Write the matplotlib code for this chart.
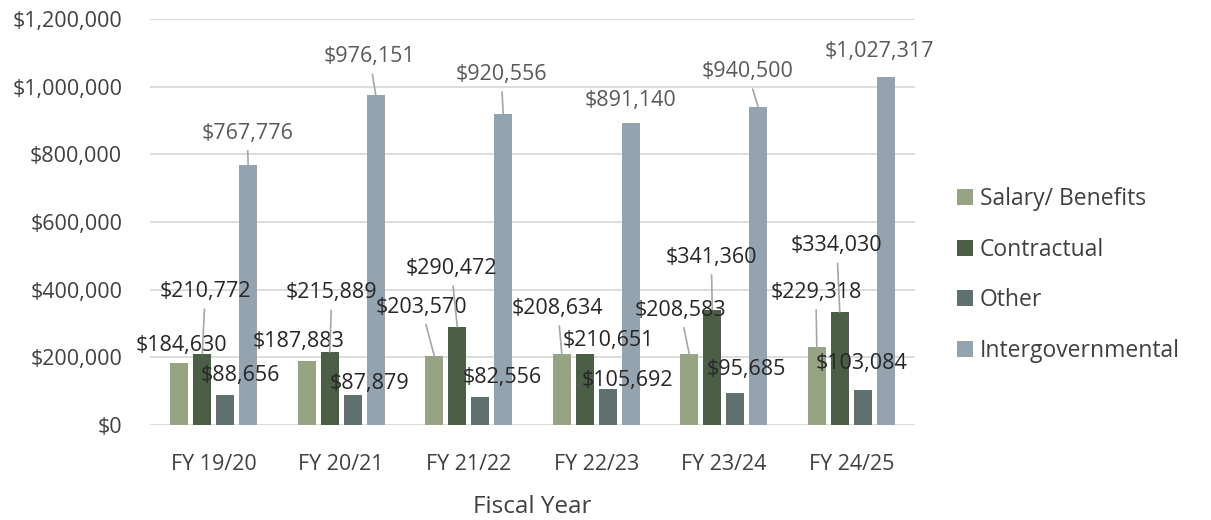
import matplotlib
matplotlib.use("Agg")
import matplotlib.pyplot as plt
import numpy as np
from matplotlib.ticker import FuncFormatter, MultipleLocator

years = ["FY 19/20", "FY 20/21", "FY 21/22", "FY 22/23", "FY 23/24", "FY 24/25"]
series_names = ["Salary/ Benefits", "Contractual", "Other", "Intergovernmental"]
salary = [184630, 187883, 203570, 208634, 208583, 229318]
contractual = [210772, 215889, 290472, 210651, 341360, 334030]
other = [88656, 87879, 82556, 105692, 95685, 103084]
intergov = [767776, 976151, 920556, 891140, 940500, 1027317]
values = [salary, contractual, other, intergov]

colors = ["#97A484", "#4B5E46", "#5E716F", "#94A3B0"]
label_colors = ["#262626", "#262626", "#262626", "#595959"]

# label offsets (pixels) from bar top, and whether a leader line is drawn
offsets = [
    [(2, 17), (-8, 20), (-13, 49), (-4, 46), (-9, 44), (-1, 55)],
    [(3, 62), (2, 59), (-6, 58), (24, 13), (-1, 52), (-3, 66)],
    [(15, 20), (17, 12), (22, 20), (20, 9), (11, 23), (-1, 27)],
    [(-1, 32), (-6, 38), (-2, 39), (0, 23), (-11, 35), (-6, 26)],
]
leaders = [
    [False, False, True, True, True, True],
    [True, True, True, False, True, True],
    [False, False, False, False, False, False],
    [True, True, True, False, True, False],
]

FONT = "Open Sans"
plt.rcParams["font.family"] = [FONT, "DejaVu Sans"]

fig = plt.figure(figsize=(12.11, 5.2), dpi=100)
ax = fig.add_axes([150 / 1211, 95 / 520, 765 / 1211, 406 / 520])

x = np.arange(len(years))
step = 0.18
width = 0.141
for s in range(4):
    pos = x + (s - 1.5) * step
    ax.bar(pos, values[s], width=width, color=colors[s], label=series_names[s], zorder=3)
    for i in range(len(years)):
        dx, dy = offsets[s][i]
        kw = {}
        if leaders[s][i]:
            kw["arrowprops"] = dict(arrowstyle="-", color="#A6A6A6", lw=1.2,
                                    shrinkA=3, shrinkB=0)
        ax.annotate(f"${values[s][i]:,}", xy=(pos[i], values[s][i]),
                    xytext=(dx, dy), textcoords="offset pixels",
                    ha="center", va="center", fontsize=15.5,
                    color=label_colors[s], zorder=5, **kw)

ax.set_xlim(-0.5, len(years) - 0.5)
ax.set_ylim(0, 1200000)
ax.yaxis.set_major_locator(MultipleLocator(200000))
ax.yaxis.set_major_formatter(FuncFormatter(lambda v, p: f"${int(v):,}"))
ax.set_xticks(x)
ax.set_xticklabels(years)
ax.grid(axis="y", color="#D9D9D9", lw=1.3, zorder=0)
for sp in ax.spines.values():
    sp.set_visible(False)
ax.tick_params(axis="both", length=0, labelsize=15.5, labelcolor="#404040")
ax.tick_params(axis="y", pad=20)
ax.tick_params(axis="x", pad=21)
ax.set_xlabel("Fiscal Year", fontsize=17.5, color="#404040", labelpad=14)

leg = fig.legend(loc="center left", bbox_to_anchor=(936 / 1211, (520 - 275) / 520),
                 frameon=False, fontsize=16.5, handlelength=0.7, handleheight=0.7,
                 handletextpad=0.3, labelspacing=1.17)
for t in leg.get_texts():
    t.set_color("#404040")

fig.savefig("out.png", dpi=100)
